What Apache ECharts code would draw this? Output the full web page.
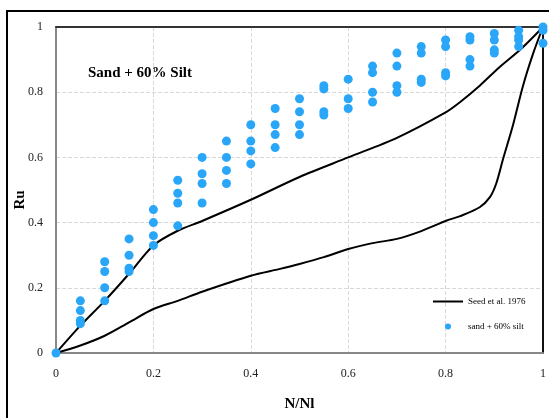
<!DOCTYPE html>
<html>
<head>
<meta charset="utf-8">
<script src="https://cdn.jsdelivr.net/npm/echarts@6/dist/echarts.min.js"></script>
<style>
html,body{margin:0;padding:0;background:#fff;}
#chart{width:549px;height:418px;}
</style>
</head>
<body>
<div id="chart"></div>
<script>
// Seed et al. 1976 bounds
var upperN  = [0, 0.05, 0.1, 0.15, 0.2, 0.25, 0.3, 0.4, 0.5, 0.6, 0.7, 0.8, 0.83, 0.87, 0.91, 0.953, 1];
var upperRu = [0, 0.084, 0.16, 0.243, 0.33, 0.375, 0.405, 0.47, 0.54, 0.60, 0.66, 0.738, 0.77, 0.82, 0.876, 0.93, 1];
var lowerN  = [0, 0.05, 0.1, 0.15, 0.2, 0.25, 0.3, 0.4, 0.46, 0.5, 0.55, 0.6, 0.65, 0.7, 0.75, 0.8, 0.83, 0.87, 0.891, 0.904, 0.918, 0.938, 0.959, 0.98, 1];
var lowerRu = [0, 0.023, 0.053, 0.094, 0.135, 0.16, 0.188, 0.237, 0.258, 0.273, 0.294, 0.319, 0.337, 0.35, 0.374, 0.405, 0.42, 0.447, 0.478, 0.52, 0.595, 0.697, 0.82, 0.92, 1];
// sand + 60% silt test points
var silt60N = [0,
  0.05,0.05,0.05,0.05, 0.1,0.1,0.1,0.1, 0.15,0.15,0.15,0.15, 0.2,0.2,0.2,0.2,
  0.25,0.25,0.25,0.25, 0.3,0.3,0.3,0.3, 0.35,0.35,0.35,0.35, 0.4,0.4,0.4,0.4,
  0.45,0.45,0.45,0.45, 0.5,0.5,0.5,0.5, 0.55,0.55,0.55,0.55, 0.6,0.6,0.6,
  0.65,0.65,0.65,0.65, 0.7,0.7,0.7,0.7, 0.75,0.75,0.75,0.75, 0.8,0.8,0.8,0.8,
  0.85,0.85,0.85,0.85, 0.9,0.9,0.9,0.9, 0.95,0.95,0.95,0.95, 1,1,1];
var silt60Ru = [0,
  0.16,0.13,0.10,0.09, 0.28,0.25,0.20,0.16, 0.35,0.30,0.26,0.25, 0.44,0.40,0.36,0.33,
  0.53,0.49,0.46,0.39, 0.60,0.55,0.52,0.46, 0.65,0.60,0.56,0.52, 0.70,0.65,0.62,0.58,
  0.75,0.70,0.67,0.63, 0.78,0.74,0.70,0.67, 0.82,0.81,0.74,0.73, 0.84,0.78,0.75,
  0.88,0.86,0.80,0.77, 0.92,0.88,0.82,0.80, 0.94,0.92,0.84,0.83, 0.96,0.94,0.86,0.85,
  0.97,0.96,0.90,0.88, 0.98,0.96,0.93,0.92, 0.99,0.97,0.96,0.94, 1.0,0.99,0.95];
var axisTicks = [0, 0.2, 0.4, 0.6, 0.8, 1];

function pairs(xs, ys){ return xs.map(function(x,i){ return [x, ys[i]]; }); }

var serif = '"Liberation Serif","Times New Roman",serif';
var splitStyle = {show: true, lineStyle: {type: 'dashed', color: '#d9d9d9'}};
var chart = echarts.init(document.getElementById('chart'));
chart.setOption({
  animation: false,
  backgroundColor: '#fff',
  grid: {left: 56, right: 6, top: 27, bottom: 65, containLabel: false, outerBoundsMode: 'none'},
  graphic: [
    {type: 'rect', shape: {x: 7, y: 11, width: 700, height: 600}, style: {fill: 'none', stroke: '#000', lineWidth: 2}, silent: true},
    {type: 'text', left: 88, top: 66, style: {text: 'Sand + 60% Silt', font: 'bold 15px ' + serif, fill: '#000'}},
    {type: 'text', x: 20, y: 200, rotation: Math.PI / 2,
      style: {text: 'Ru', font: 'bold 15px ' + serif, fill: '#000', align: 'center', verticalAlign: 'middle'}}
  ],
  legend: {
    orient: 'vertical', left: 428, top: 292, itemWidth: 30, itemHeight: 6, itemGap: 16,
    textStyle: {fontFamily: serif, fontSize: 9, color: '#000'},
    data: [
      {name: 'Seed et al. 1976', icon: 'path://M0,0 L30,0 L30,2 L0,2 Z', itemStyle: {color: '#000'}},
      {name: 'sand + 60% silt', icon: 'circle'}
    ]
  },
  xAxis: [{
    type: 'value', min: 0, max: 1, interval: 0.2, position: 'bottom',
    name: 'N/Nl', nameLocation: 'middle', nameGap: 44,
    nameTextStyle: {fontFamily: serif, fontWeight: 'bold', fontSize: 15, color: '#000'},
    axisLine: {show: true, lineStyle: {color: '#888', width: 2}},
    axisTick: {show: false},
    axisLabel: {margin: 15, fontFamily: serif, fontSize: 12, color: '#222',
      formatter: function(v){ return String(+v.toFixed(1)); }},
    splitLine: splitStyle, z: 3
  }, {
    type: 'value', min: 0, max: 1, interval: 0.2, position: 'top',
    axisLine: {show: true, onZero: false, lineStyle: {color: '#333', width: 2}},
    axisTick: {show: false}, axisLabel: {show: false}, splitLine: {show: false}, z: 3
  }],
  yAxis: [{
    type: 'value', min: 0, max: 1, interval: 0.2, position: 'left',
    axisLine: {show: true, onZero: false, lineStyle: {color: '#888', width: 2}},
    axisTick: {show: false},
    axisLabel: {margin: 13, fontFamily: serif, fontSize: 12, color: '#222',
      formatter: function(v){ return String(+v.toFixed(1)); }},
    splitLine: splitStyle, z: 3
  }, {
    type: 'value', min: 0, max: 1, interval: 0.2, position: 'right',
    axisLine: {show: true, onZero: false, lineStyle: {color: '#111', width: 2}},
    axisTick: {show: false}, axisLabel: {show: false}, splitLine: {show: false}, z: 3
  }],
  series: [
    {name: 'Seed et al. 1976', type: 'line', data: pairs(upperN, upperRu), smooth: 0.3, showSymbol: false,
      lineStyle: {color: '#000', width: 2}, itemStyle: {color: '#000'}, z: 4},
    {name: 'Seed et al. 1976', type: 'line', data: pairs(lowerN, lowerRu), smooth: 0.3, showSymbol: false,
      lineStyle: {color: '#000', width: 2}, itemStyle: {color: '#000'}, z: 4},
    {name: 'sand + 60% silt', type: 'scatter', data: pairs(silt60N, silt60Ru), symbolSize: 9,
      itemStyle: {color: '#29a6f7', opacity: 1}, z: 5}
  ]
});
</script>
</body>
</html>
